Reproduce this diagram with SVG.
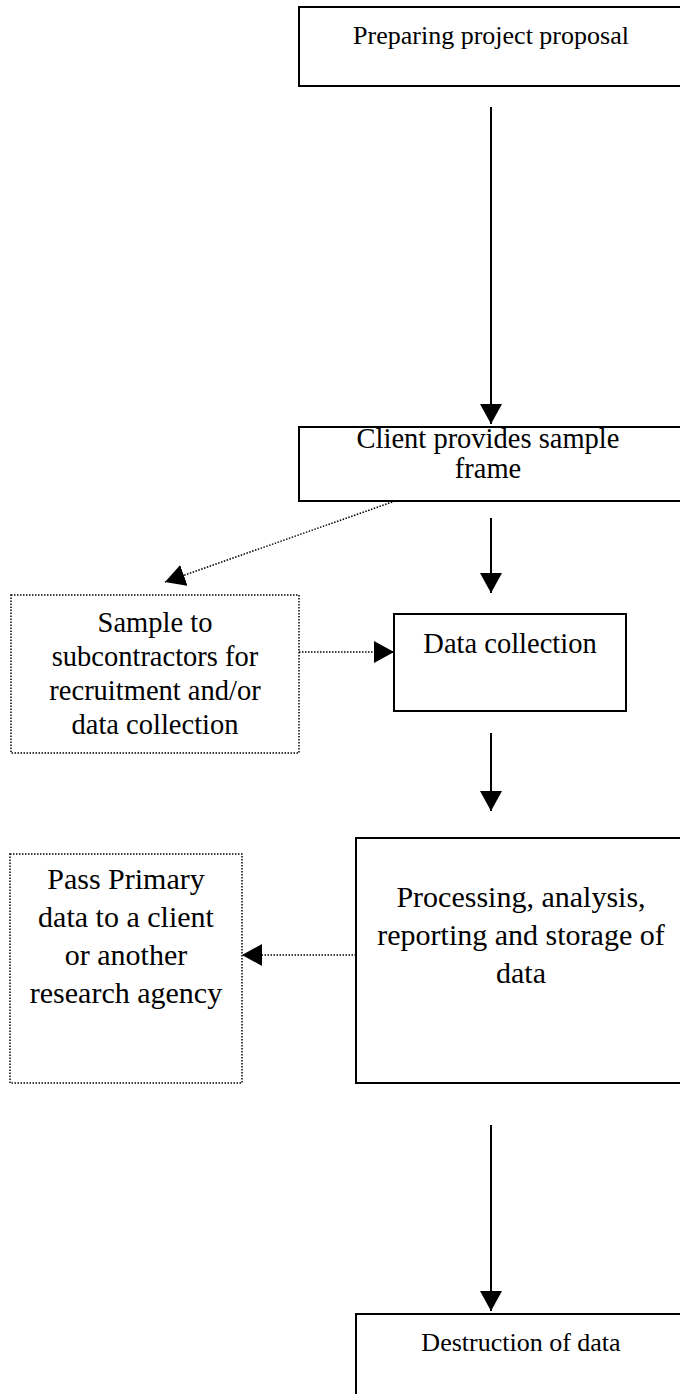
<svg xmlns="http://www.w3.org/2000/svg" width="680" height="1394" viewBox="0 0 680 1394">
<style>
  .box { fill: #fff; stroke: #000; stroke-width: 2; }
  .dbox { fill: #fff; stroke: #000; stroke-width: 1.5; stroke-dasharray: 1.5 1.5; }
  .t { font-family: "Liberation Serif", "Times New Roman", serif; fill: #000; text-anchor: middle; }
  .sm { font-size: 26px; }
  .md { font-size: 28.5px; }
  .lg { font-size: 30px; }
  .solid { stroke: #000; stroke-width: 2; fill: none; marker-end: url(#ah); }
  .dot { stroke: #000; stroke-width: 1.5; stroke-dasharray: 1.5 1.5; fill: none; marker-end: url(#ah); }
</style>
<defs>
  <marker id="ah" markerUnits="userSpaceOnUse" markerWidth="20" markerHeight="22" refX="20" refY="11" orient="auto">
    <path d="M0,0 L20,11 L0,22 z" fill="#000"/>
  </marker>
</defs>
<rect width="680" height="1394" fill="#fff"/>

<g id="connectors">
  <line class="solid" x1="491" y1="107" x2="491" y2="424"/>
  <line class="dot" x1="395" y1="501" x2="165" y2="582"/>
  <line class="solid" x1="491" y1="518" x2="491" y2="593"/>
  <line class="dot" x1="299" y1="652" x2="394" y2="652"/>
  <line class="solid" x1="491" y1="733" x2="491" y2="811"/>
  <line class="dot" x1="356" y1="955" x2="242" y2="955"/>
  <line class="solid" x1="491" y1="1125" x2="491" y2="1311"/>
</g>

<g id="n-proposal">
  <rect class="box" x="299" y="7" width="386" height="79"/>
  <text class="t sm" x="491" y="44">Preparing project proposal</text>
</g>

<g id="n-client">
  <rect class="box" x="299" y="427" width="386" height="74"/>
  <text class="t md" x="488" y="448">Client provides sample</text>
  <text class="t md" x="488" y="478">frame</text>
</g>

<g id="n-sample">
  <rect class="dbox" x="11" y="595" width="288" height="158"/>
  <text class="t md" x="155" y="632">Sample to</text>
  <text class="t md" x="155" y="666">subcontractors for</text>
  <text class="t md" x="155" y="700">recruitment and/or</text>
  <text class="t md" x="155" y="734">data collection</text>
</g>

<g id="n-collection">
  <rect class="box" x="394" y="614" width="232" height="97"/>
  <text class="t md" x="510" y="653">Data collection</text>
</g>

<g id="n-processing">
  <rect class="box" x="356" y="838" width="332" height="245"/>
  <text class="t lg" x="521" y="907">Processing, analysis,</text>
  <text class="t lg" x="521" y="945">reporting and storage of</text>
  <text class="t lg" x="521" y="983">data</text>
</g>

<g id="n-pass">
  <rect class="dbox" x="10" y="854" width="232" height="229"/>
  <text class="t lg" x="126" y="889">Pass Primary</text>
  <text class="t lg" x="126" y="927">data to a client</text>
  <text class="t lg" x="126" y="965">or another</text>
  <text class="t lg" x="126" y="1003">research agency</text>
</g>

<g id="n-destruction">
  <rect class="box" x="356" y="1314" width="332" height="100"/>
  <text class="t sm" x="521" y="1351">Destruction of data</text>
</g>
</svg>
